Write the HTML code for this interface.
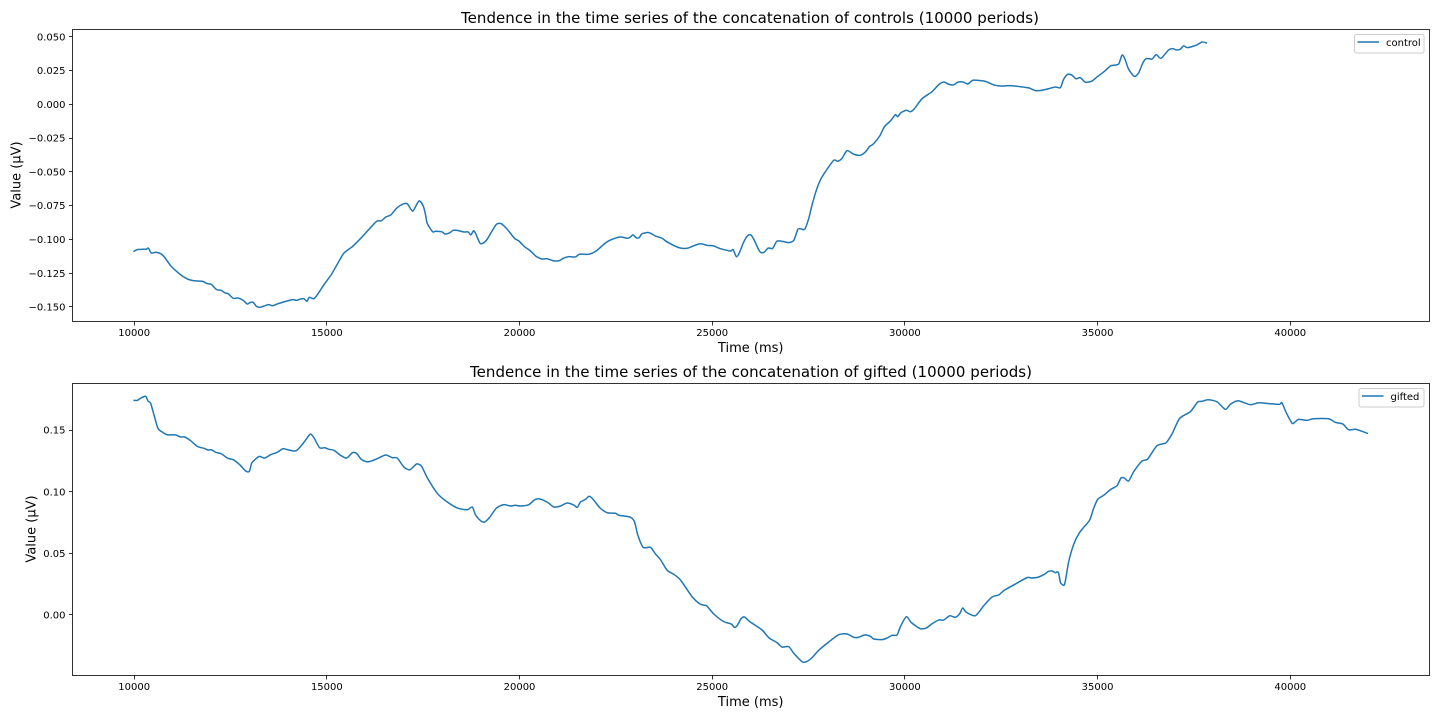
<!DOCTYPE html>
<html lang="en">
<head>
<meta charset="utf-8">
<title>Tendence in the time series</title>
<style>
  html, body { margin: 0; padding: 0; background: #ffffff; }
  body { width: 1440px; height: 720px; overflow: hidden; }
  svg { display: block; }
  text { font-family: "DejaVu Sans", "Liberation Sans", sans-serif; fill: #000000; }
  .spine { fill: none; stroke: #000000; stroke-width: 0.8; }
  .tick { stroke: #000000; stroke-width: 0.8; }
  .tick-label { font-size: 10px; }
  .axis-title { font-size: 13px; }
  .chart-title { font-size: 15px; }
  .series { fill: none; stroke: #1f77b4; stroke-width: 1.5; stroke-linejoin: round; stroke-linecap: square; }
  .legend-box { fill: #ffffff; fill-opacity: 0.8; stroke: #cccccc; stroke-width: 1; }
  .legend-text { font-size: 10px; }
</style>
</head>
<body>
<svg id="figure" xmlns="http://www.w3.org/2000/svg" width="1440" height="720" viewBox="0 0 1440 720">
  <rect x="0" y="0" width="1440" height="720" fill="#ffffff"/>

  <g id="panel-control">
    <text class="chart-title" x="750" y="23" text-anchor="middle" textLength="578" lengthAdjust="spacing">Tendence in the time series of the concatenation of controls (10000 periods)</text>
    <text class="axis-title" x="750.7" y="352" text-anchor="middle">Time (ms)</text>
    <text class="axis-title" transform="translate(20.5,175) rotate(-90)" text-anchor="middle">Value (µV)</text>
  </g>

  <g id="panel-gifted">
    <text class="chart-title" x="751" y="377" text-anchor="middle" textLength="562" lengthAdjust="spacing">Tendence in the time series of the concatenation of gifted (10000 periods)</text>
    <text class="axis-title" x="750.7" y="706" text-anchor="middle">Time (ms)</text>
    <text class="axis-title" transform="translate(35.5,529) rotate(-90)" text-anchor="middle">Value (µV)</text>
  </g>
</svg>

<script>
const xTickValues = [10000, 15000, 20000, 25000, 30000, 35000, 40000];
const controlYTickValues = [-0.150, -0.125, -0.100, -0.075, -0.050, -0.025, 0.000, 0.025, 0.050];
const giftedYTickValues = [0.00, 0.05, 0.10, 0.15];

const controlLabel = 'control';
const giftedLabel = 'gifted';

const controlTimes = [
  10000, 10080, 10255, 10320, 10370, 10445, 10560, 10690, 10790, 10930,
  11080, 11250, 11400, 11550, 11770, 11900, 12000, 12140, 12260, 12350,
  12440, 12570, 12690, 12830, 12935, 13020, 13090, 13170, 13265, 13370,
  13490, 13590, 13715, 13845, 13970, 14120, 14215, 14320, 14405, 14485,
  14545, 14665, 14795, 14925, 15115, 15270, 15445, 15660, 15880, 16095,
  16295, 16415, 16530, 16660, 16815, 16982, 17086, 17172, 17242, 17389,
  17501, 17562, 17605, 17743, 17821, 17994, 18063, 18193, 18279, 18383,
  18556, 18668, 18737, 18807, 18858, 18971, 19049, 19161, 19291, 19403,
  19524, 19680, 19870, 19983, 20130, 20285, 20441, 20588, 20718, 20873,
  21020, 21150, 21280, 21453, 21556, 21799, 21997, 22188, 22343, 22603,
  22793, 22880, 22940, 23026, 23104, 23182, 23355, 23528, 23701, 23830,
  24133, 24350, 24522, 24695, 24868, 25024, 25214, 25430, 25491, 25543,
  25629, 25707, 25802, 25906, 25993, 26079, 26209, 26270, 26356, 26451,
  26555, 26598, 26684, 26857, 26987, 27117, 27220, 27289, 27400, 27505,
  27591, 27704, 27808, 27937, 28153, 28257, 28370, 28500, 28672, 28845,
  28975, 29087, 29174, 29347, 29468, 29624, 29753, 29814, 29900, 30039,
  30142, 30246, 30445, 30704, 30877, 31007, 31137, 31266, 31370, 31509,
  31630, 31768, 32045, 32149, 32304, 32477, 32737, 32996, 33212, 33385,
  33558, 33731, 33904, 34034, 34120, 34224, 34337, 34440, 34552, 34682,
  34855, 34985, 35158, 35330, 35417, 35547, 35633, 35702, 35806, 35953,
  36065, 36178, 36265, 36412, 36524, 36646, 36844, 36956, 37034, 37146,
  37233, 37337, 37579, 37709, 37823
];
const controlValues = [
  -0.1088, -0.1076, -0.1073, -0.1073, -0.1064, -0.1101, -0.1095, -0.1106, -0.1132, -0.1189,
  -0.1232, -0.1271, -0.1295, -0.1306, -0.1310, -0.1328, -0.1332, -0.1372, -0.1377, -0.1395,
  -0.1402, -0.1436, -0.1434, -0.1451, -0.1478, -0.1466, -0.1466, -0.1495, -0.1503, -0.1493,
  -0.1483, -0.1491, -0.1478, -0.1466, -0.1456, -0.1446, -0.1451, -0.1441, -0.1439, -0.1458,
  -0.1429, -0.1439, -0.1392, -0.1335, -0.1261, -0.1184, -0.1101, -0.1054, -0.0992, -0.0925,
  -0.0866, -0.0862, -0.0834, -0.0819, -0.0768, -0.0738, -0.0736, -0.0773, -0.0788, -0.0716,
  -0.0753, -0.0819, -0.0881, -0.0943, -0.0940, -0.0945, -0.0960, -0.0950, -0.0933, -0.0933,
  -0.0945, -0.0945, -0.0967, -0.0936, -0.0955, -0.1027, -0.1029, -0.0999, -0.0936, -0.0888,
  -0.0884, -0.0925, -0.0992, -0.1012, -0.1054, -0.1086, -0.1128, -0.1145, -0.1143, -0.1158,
  -0.1158, -0.1138, -0.1128, -0.1130, -0.1110, -0.1110, -0.1084, -0.1036, -0.1007, -0.0982,
  -0.0992, -0.0982, -0.0967, -0.0987, -0.0987, -0.0958, -0.0950, -0.0975, -0.0992, -0.1019,
  -0.1061, -0.1066, -0.1047, -0.1032, -0.1044, -0.1047, -0.1069, -0.1084, -0.1086, -0.1076,
  -0.1128, -0.1098, -0.1029, -0.0977, -0.0965, -0.0999, -0.1078, -0.1098, -0.1093, -0.1064,
  -0.1069, -0.1054, -0.1012, -0.1017, -0.1024, -0.1007, -0.0927, -0.0921, -0.0925, -0.0845,
  -0.0745, -0.0634, -0.0560, -0.0499, -0.0415, -0.0422, -0.0400, -0.0343, -0.0370, -0.0377,
  -0.0353, -0.0311, -0.0296, -0.0235, -0.0166, -0.0124, -0.0077, -0.0092, -0.0062, -0.0044,
  -0.0055, -0.0033, 0.0041, 0.0093, 0.0145, 0.0165, 0.0148, 0.0143, 0.0163, 0.0165,
  0.0150, 0.0178, 0.0172, 0.0163, 0.0143, 0.0135, 0.0138, 0.0130, 0.0121, 0.0101,
  0.0104, 0.0115, 0.0128, 0.0123, 0.0185, 0.0222, 0.0215, 0.0189, 0.0197, 0.0163,
  0.0172, 0.0202, 0.0239, 0.0283, 0.0289, 0.0298, 0.0363, 0.0340, 0.0259, 0.0207,
  0.0232, 0.0308, 0.0338, 0.0335, 0.0367, 0.0340, 0.0402, 0.0412, 0.0402, 0.0407,
  0.0432, 0.0419, 0.0439, 0.0461, 0.0454
];

const giftedTimes = [
  10000, 10082, 10186, 10299, 10359, 10428, 10515, 10618, 10731, 10861,
  11077, 11206, 11310, 11466, 11639, 11812, 11916, 12002, 12114, 12261,
  12417, 12590, 12746, 12893, 12988, 13048, 13135, 13247, 13386, 13541,
  13714, 13861, 14017, 14207, 14406, 14510, 14579, 14665, 14812, 14942,
  15054, 15184, 15357, 15513, 15660, 15772, 15893, 16032, 16135, 16308,
  16524, 16697, 16827, 17000, 17155, 17328, 17458, 17605, 17864, 18081,
  18383, 18643, 18773, 18859, 18989, 19093, 19231, 19404, 19594, 19767,
  19896, 20025, 20242, 20371, 20475, 20588, 20760, 20890, 21063, 21236,
  21409, 21496, 21582, 21712, 21807, 21910, 22083, 22274, 22490, 22576,
  22862, 22983, 23069, 23208, 23398, 23527, 23657, 23830, 24003, 24176,
  24479, 24695, 24851, 25041, 25300, 25490, 25577, 25646, 25750, 25836,
  25975, 26294, 26467, 26684, 26813, 26986, 27116, 27332, 27445, 27592,
  27765, 28024, 28283, 28499, 28672, 28802, 28949, 29105, 29191, 29407,
  29537, 29667, 29797, 29883, 30039, 30168, 30402, 30557, 30704, 30877,
  31007, 31163, 31310, 31422, 31500, 31586, 31829, 32045, 32261, 32434,
  32564, 32866, 33169, 33299, 33472, 33645, 33705, 33817, 33904, 33982,
  34034, 34077, 34146, 34250, 34380, 34509, 34639, 34795, 34898, 35002,
  35158, 35331, 35504, 35607, 35694, 35806, 35936, 36152, 36299, 36541,
  36775, 36930, 37130, 37406, 37596, 37709, 37865, 38098, 38314, 38443,
  38642, 38963, 39179, 39481, 39723, 39783, 39896, 40043, 40104, 40216,
  40433, 40605, 40994, 41167, 41366, 41513, 41712, 42000
];
const giftedValues = [
  0.1741, 0.1741, 0.1762, 0.1774, 0.1736, 0.1717, 0.1622, 0.1514, 0.1484, 0.1462,
  0.1460, 0.1444, 0.1444, 0.1414, 0.1368, 0.1352, 0.1338, 0.1341, 0.1320, 0.1308,
  0.1273, 0.1257, 0.1217, 0.1168, 0.1165, 0.1230, 0.1260, 0.1287, 0.1273, 0.1300,
  0.1320, 0.1349, 0.1338, 0.1333, 0.1401, 0.1446, 0.1468, 0.1438, 0.1357, 0.1357,
  0.1344, 0.1336, 0.1295, 0.1273, 0.1316, 0.1311, 0.1263, 0.1243, 0.1247, 0.1268,
  0.1298, 0.1276, 0.1273, 0.1200, 0.1178, 0.1225, 0.1206, 0.1114, 0.0987, 0.0927,
  0.0868, 0.0854, 0.0876, 0.0811, 0.0765, 0.0754, 0.0795, 0.0868, 0.0895, 0.0884,
  0.0890, 0.0884, 0.0895, 0.0930, 0.0943, 0.0935, 0.0906, 0.0876, 0.0884, 0.0908,
  0.0892, 0.0873, 0.0916, 0.0938, 0.0963, 0.0938, 0.0870, 0.0830, 0.0825, 0.0809,
  0.0795, 0.0757, 0.0649, 0.0549, 0.0549, 0.0495, 0.0449, 0.0363, 0.0330, 0.0284,
  0.0148, 0.0087, 0.0075, 0.0008, -0.0054, -0.0073, -0.0100, -0.0087, -0.0030, -0.0016,
  -0.0054, -0.0122, -0.0184, -0.0225, -0.0260, -0.0257, -0.0311, -0.0379, -0.0379, -0.0346,
  -0.0286, -0.0219, -0.0160, -0.0154, -0.0181, -0.0181, -0.0162, -0.0173, -0.0195, -0.0200,
  -0.0187, -0.0165, -0.0162, -0.0095, -0.0014, -0.0062, -0.0111, -0.0105, -0.0071, -0.0041,
  -0.0041, -0.0006, -0.0019, 0.0011, 0.0057, 0.0024, -0.0006, 0.0075, 0.0146, 0.0162,
  0.0197, 0.0251, 0.0303, 0.0300, 0.0308, 0.0335, 0.0351, 0.0357, 0.0343, 0.0346,
  0.0265, 0.0249, 0.0251, 0.0432, 0.0573, 0.0657, 0.0711, 0.0770, 0.0865, 0.0938,
  0.0971, 0.1016, 0.1049, 0.1111, 0.1111, 0.1087, 0.1162, 0.1249, 0.1265, 0.1373,
  0.1397, 0.1468, 0.1595, 0.1649, 0.1727, 0.1733, 0.1746, 0.1730, 0.1668, 0.1709,
  0.1738, 0.1706, 0.1722, 0.1714, 0.1709, 0.1722, 0.1641, 0.1557, 0.1560, 0.1587,
  0.1579, 0.1592, 0.1592, 0.1563, 0.1549, 0.1503, 0.1506, 0.1474
];

const SVG_NS = 'http://www.w3.org/2000/svg';

function linearScale(domainLow, domainHigh, rangeLow, rangeHigh) {
  return function (v) {
    return rangeLow + (v - domainLow) * (rangeHigh - rangeLow) / (domainHigh - domainLow);
  };
}

function snap(p) {
  return Math.floor(p) + 0.5;
}

function formatTick(v, digits) {
  const s = Math.abs(v).toFixed(digits);
  return (v < 0 ? '\u2212' : '') + s;
}

function smoothPath(pts) {
  let d = 'M' + pts[0][0].toFixed(2) + ' ' + pts[0][1].toFixed(2);
  for (let i = 0; i < pts.length - 1; i++) {
    const p0 = pts[Math.max(0, i - 1)];
    const p1 = pts[i];
    const p2 = pts[i + 1];
    const p3 = pts[Math.min(pts.length - 1, i + 2)];
    const k = 1 / 8;
    const c1x = p1[0] + (p2[0] - p0[0]) * k;
    const c1y = p1[1] + (p2[1] - p0[1]) * k;
    const c2x = p2[0] - (p3[0] - p1[0]) * k;
    const c2y = p2[1] - (p3[1] - p1[1]) * k;
    d += 'C' + c1x.toFixed(2) + ' ' + c1y.toFixed(2) + ' ' + c2x.toFixed(2) + ' ' + c2y.toFixed(2) + ' ' + p2[0].toFixed(2) + ' ' + p2[1].toFixed(2);
  }
  return d;
}

function drawPanel(cfg) {
  const parent = document.getElementById(cfg.parentId);
  const sx = linearScale(cfg.xMin, cfg.xMax, cfg.left, cfg.right);
  const sy = linearScale(cfg.yMin, cfg.yMax, cfg.bottom, cfg.top);

  const line = document.createElementNS(SVG_NS, 'path');
  
  
  line.setAttribute('class', 'series');
  line.setAttribute('d', smoothPath(cfg.times.map(function (t, i) {
    return [sx(t), sy(cfg.values[i])];
  })));
  parent.appendChild(line);

  const frame = document.createElementNS(SVG_NS, 'rect');
  
  
  frame.setAttribute('class', 'spine');
  frame.setAttribute('x', snap(cfg.left));
  frame.setAttribute('y', snap(cfg.top));
  frame.setAttribute('width', snap(cfg.right) - snap(cfg.left));
  frame.setAttribute('height', snap(cfg.bottom) - snap(cfg.top));
  parent.appendChild(frame);

  cfg.xTicks.forEach(function (t) {
    const px = sx(t);
    const tick = document.createElementNS(SVG_NS, 'line');
    
    
    tick.setAttribute('class', 'tick');
    tick.setAttribute('x1', snap(px));
    tick.setAttribute('x2', snap(px));
    tick.setAttribute('y1', cfg.bottom);
    tick.setAttribute('y2', cfg.bottom + 4.5);
    parent.appendChild(tick);

    const label = document.createElementNS(SVG_NS, 'text');
    
    
    label.setAttribute('class', 'tick-label');
    label.setAttribute('x', px);
    label.setAttribute('y', cfg.bottom + 15);
    label.setAttribute('text-anchor', 'middle');
    label.textContent = String(t);
    parent.appendChild(label);
  });

  cfg.yTicks.forEach(function (v) {
    const py = sy(v);
    const tick = document.createElementNS(SVG_NS, 'line');
    
    
    tick.setAttribute('class', 'tick');
    tick.setAttribute('x1', cfg.left - 3.5);
    tick.setAttribute('x2', cfg.left);
    tick.setAttribute('y1', snap(py));
    tick.setAttribute('y2', snap(py));
    parent.appendChild(tick);

    const label = document.createElementNS(SVG_NS, 'text');
    
    
    label.setAttribute('class', 'tick-label');
    label.setAttribute('x', cfg.left - 7);
    label.setAttribute('y', py + 3.6);
    label.setAttribute('text-anchor', 'end');
    label.textContent = formatTick(v, cfg.yDigits);
    parent.appendChild(label);
  });

  const box = document.createElementNS(SVG_NS, 'rect');
  
  
  box.setAttribute('class', 'legend-box');
  box.setAttribute('x', cfg.legendLeft);
  box.setAttribute('y', cfg.top + 5.5);
  box.setAttribute('width', cfg.right - 5 - cfg.legendLeft);
  box.setAttribute('height', 18.5);
  box.setAttribute('rx', 2);
  box.setAttribute('ry', 2);
  parent.appendChild(box);

  const key = document.createElementNS(SVG_NS, 'line');
  
  
  key.setAttribute('stroke', '#1f77b4');
  key.setAttribute('stroke-width', '1.5');
  key.setAttribute('x1', cfg.legendLeft + 3);
  key.setAttribute('x2', cfg.legendLeft + 24.5);
  key.setAttribute('y1', cfg.top + 13);
  key.setAttribute('y2', cfg.top + 13);
  parent.appendChild(key);

  const keyText = document.createElementNS(SVG_NS, 'text');
  
  
  keyText.setAttribute('class', 'legend-text');
  keyText.setAttribute('x', cfg.legendLeft + 31.5);
  keyText.setAttribute('y', cfg.top + 17);
  keyText.textContent = cfg.label;
  parent.appendChild(keyText);
}

drawPanel({
  parentId: 'panel-control',
  times: controlTimes,
  values: controlValues,
  xTicks: xTickValues,
  yTicks: controlYTickValues,
  yDigits: 3,
  label: controlLabel,
  xMin: 8400, xMax: 43600,
  yMin: -0.1604, yMax: 0.0557,
  left: 72.5, right: 1429, top: 29, bottom: 321,
  legendLeft: 1354.5
});

drawPanel({
  parentId: 'panel-gifted',
  times: giftedTimes,
  values: giftedValues,
  xTicks: xTickValues,
  yTicks: giftedYTickValues,
  yDigits: 2,
  label: giftedLabel,
  xMin: 8400, xMax: 43600,
  yMin: -0.0487, yMax: 0.1882,
  left: 72.5, right: 1429, top: 383, bottom: 675,
  legendLeft: 1359
});
</script>
</body>
</html>
